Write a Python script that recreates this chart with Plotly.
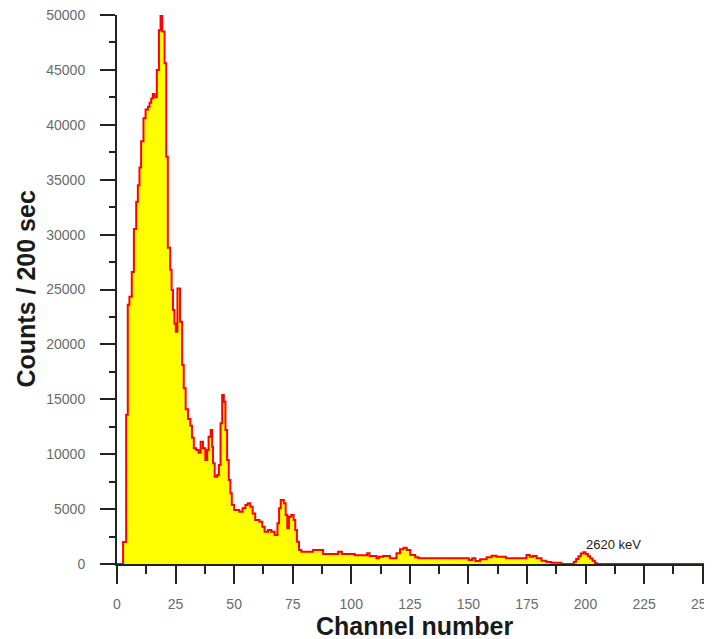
import plotly.graph_objects as go

# Spectrum: channel where each step begins, and the counts in that step
channel = [0, 2.6, 3.9, 4.6, 5.3, 6.3, 7.2, 8.2, 8.9, 9.6, 10.3, 11.3, 12.2, 13.2, 13.9,
           14.6, 15.3, 16.0, 17.0, 17.9, 18.6, 19.3, 20.3, 21.0, 21.7, 22.7, 23.3, 23.9,
           24.5, 25.1, 25.8, 26.9, 27.8, 28.5, 29.3, 30.3, 31.3, 32.0, 32.8, 33.8, 34.8,
           35.7, 36.7, 37.7, 38.5, 39.1, 40.0, 40.6, 41.0, 41.7, 42.8, 43.5, 44.2, 44.9,
           45.6, 46.3, 47.0, 47.7, 48.4, 49.0, 50.0, 52.2, 53.6, 54.8, 55.8, 56.9, 57.9,
           59.0, 60.8, 62.0, 63.0, 64.5, 65.9, 67.3, 68.5, 69.2, 69.9, 71.2, 72.0, 72.7,
           73.4, 74.4, 75.4, 76.1, 76.8, 77.7, 78.7, 83.7, 88.0, 94.4, 96.0, 101.5, 106.8,
           107.8, 110.8, 111.8, 113.6, 116.5, 119.3, 120.8, 122.3, 123.7, 125.2, 127.3,
           128.7, 150.2, 151.6, 153.0, 155.0, 157.8, 159.9, 162.0, 166.0, 174.8, 176.2,
           177.6, 179.1, 181.2, 183.3, 185.4, 189.7, 195.0, 196.0, 197.0, 198.0, 199.0,
           200.0, 201.0, 202.0, 203.0, 204.0, 204.8, 254.0]
counts = [0, 2000, 13600, 23600, 24350, 26600, 30500, 33000, 34500, 36100, 38500, 40600,
          41400, 41650, 42000, 42400, 42800, 42500, 45000, 48600, 50000, 48500, 45600,
          37100, 28800, 26800, 24950, 23130, 21900, 21150, 25100, 22070, 18120, 16000,
          14100, 13200, 12600, 11500, 10540, 10380, 10140, 11140, 10540, 9470, 10380,
          11600, 12200, 10680, 9170, 7950, 8100, 9020, 12810, 15390, 14780, 12200, 9470,
          7650, 6440, 5370, 4920, 4760, 5070, 5370, 5530, 5220, 4610, 4000, 3850, 3400,
          2940, 3100, 2940, 2640, 3700, 5070, 5830, 5530, 4460, 3250, 4310, 4460, 4010,
          3100, 2030, 1270, 1120, 1270, 910, 1120, 910, 800, 970, 730, 520, 670, 730,
          520, 970, 1340, 1490, 1275, 820, 610, 520, 365, 520, 273, 425, 610, 760, 670,
          520, 820, 670, 730, 520, 300, 180, 120, 0, 200, 450, 700, 950, 1060, 900, 700,
          500, 300, 100, 0, 0]

x_ticks = [0, 25, 50, 75, 100, 125, 150, 175, 200, 225, 250]
y_ticks = [0, 5000, 10000, 15000, 20000, 25000, 30000, 35000, 40000, 45000, 50000]
x_title = "Channel number"
y_title = "Counts / 200 sec"
peak_label = "2620 keV"
peak_channel = 199.5
peak_label_counts = 1800

FONT = "Liberation Sans, Arial, sans-serif"
axis_col = "#222222"
tick_font = dict(family=FONT, size=14, color="#6a6a6a")
title_font = dict(family=FONT, size=25, color="#1a1a1a")

fig = go.Figure()
fig.add_trace(go.Scatter(
    x=channel, y=counts, mode="lines", line_shape="hv",
    line=dict(color="#FF0000", width=2),
    fill="tozeroy", fillcolor="#FFFF00",
    hoverinfo="skip", showlegend=False, cliponaxis=False,
))

fig.add_annotation(
    x=peak_channel, y=peak_label_counts, text=peak_label, showarrow=False,
    xanchor="left", yanchor="middle",
    font=dict(family=FONT, size=13, color="#222222"),
)
# axis titles
fig.add_annotation(
    x=0.5, y=0, xref="paper", yref="paper", text="<b>%s</b>" % x_title,
    showarrow=False, xanchor="center", yanchor="middle", yshift=-62, font=title_font,
)
fig.add_annotation(
    x=0, y=0.5, xref="paper", yref="paper", text="<b>%s</b>" % y_title,
    showarrow=False, xanchor="center", yanchor="middle", xshift=-92, textangle=-90,
    font=title_font,
)

# the page body adds an 8 px margin, so the figure is sized to fit the window
fig.update_layout(
    width=704, height=631,
    margin=dict(l=109, r=0, t=7, b=75, autoexpand=False),
    plot_bgcolor="white", paper_bgcolor="white",
    xaxis=dict(
        range=[0, 254], tickvals=x_ticks, ticks="outside", ticklen=18, tickwidth=2,
        tickcolor=axis_col, showline=True, linewidth=2, linecolor=axis_col,
        showgrid=False, zeroline=False, tickfont=tick_font, ticklabelstandoff=8,
        ticklabeloverflow="allow",
        minor=dict(dtick=12.5, tick0=0, ticks="outside", ticklen=8, tickwidth=2,
                   tickcolor=axis_col, showgrid=False),
        automargin=False, layer="below traces",
    ),
    yaxis=dict(
        range=[0, 50000], tickvals=y_ticks, tickformat="d", ticks="outside", ticklen=15,
        tickwidth=2, tickcolor=axis_col, showline=True, linewidth=2, linecolor=axis_col,
        showgrid=False, zeroline=False, tickfont=tick_font, ticklabelstandoff=12,
        ticklabeloverflow="allow",
        minor=dict(dtick=2500, tick0=0, ticks="outside", ticklen=6, tickwidth=2,
                   tickcolor=axis_col, showgrid=False),
        automargin=False, layer="below traces",
    ),
)

fig.write_html("out.html")
